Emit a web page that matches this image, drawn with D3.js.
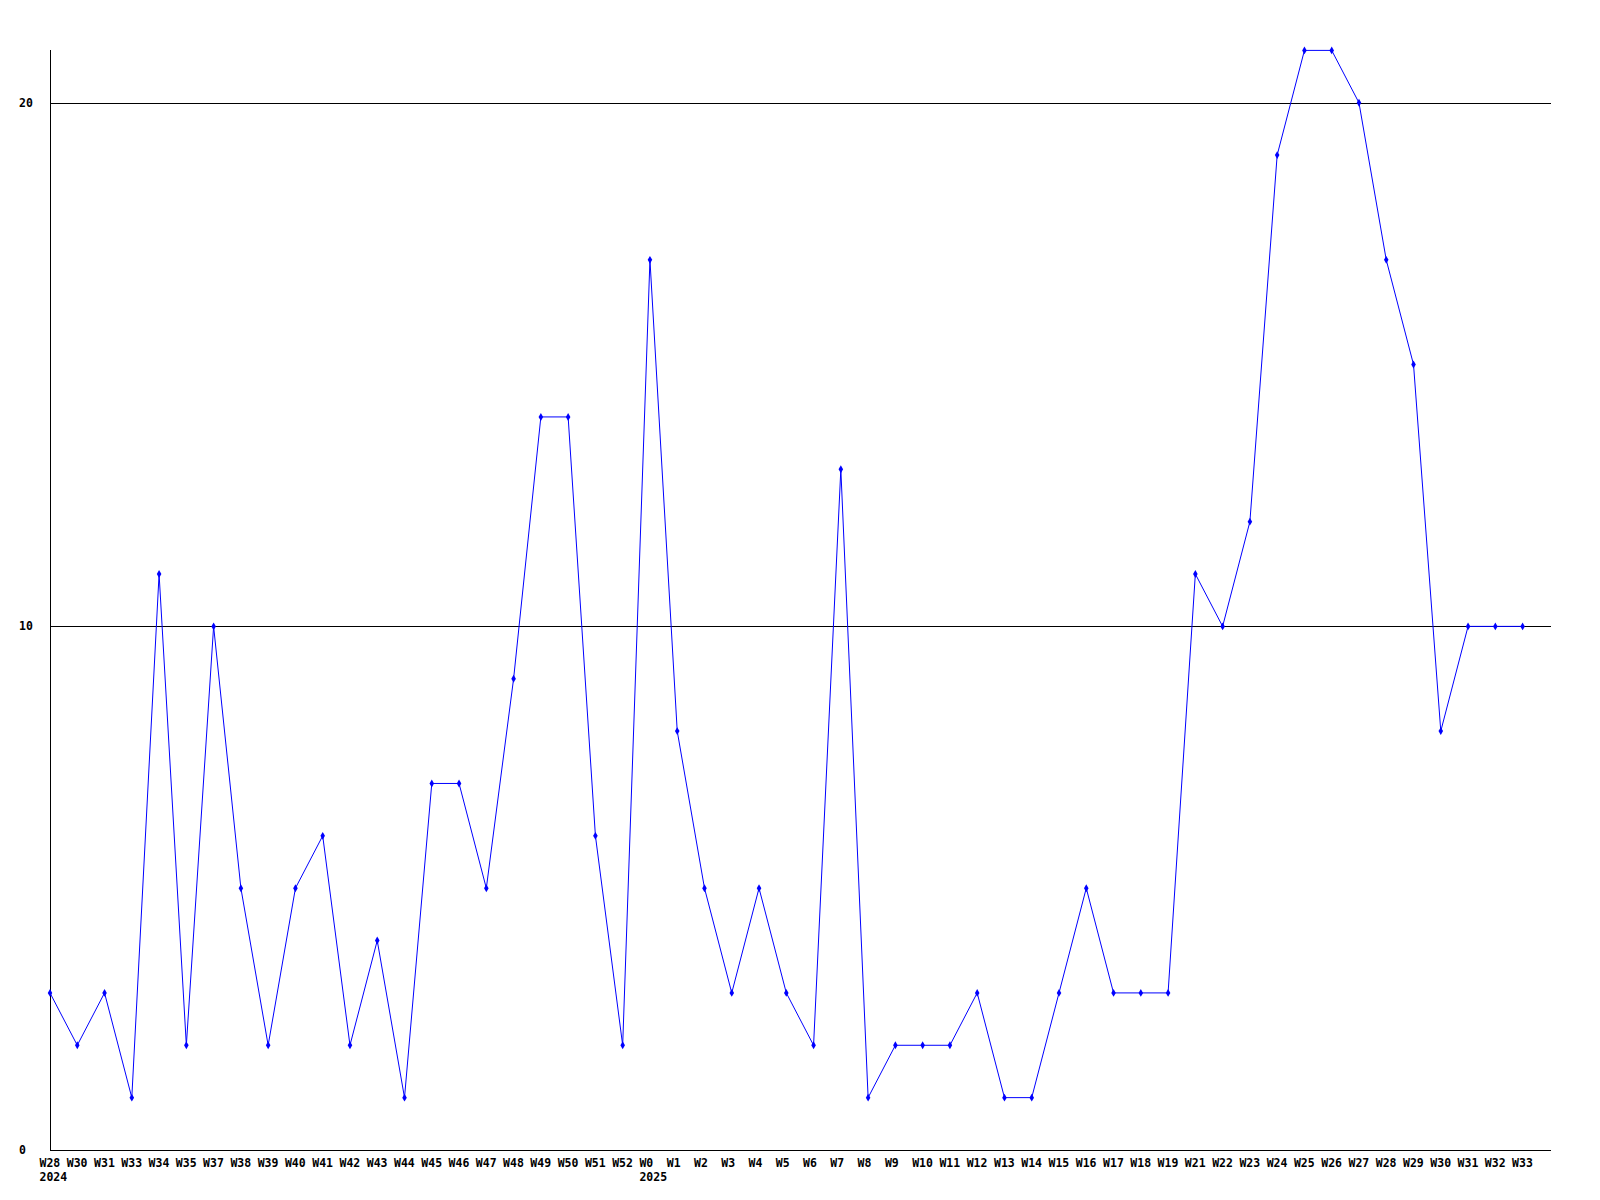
<!DOCTYPE html>
<html>
<head>
<meta charset="utf-8">
<script src="https://cdn.jsdelivr.net/npm/d3@7"></script>
<style>
html,body{margin:0;padding:0;background:#fff;}
svg text{font-family:"DejaVu Sans Mono","Liberation Mono",monospace;font-weight:bold;font-size:11.5px;fill:#000;}
</style>
</head>
<body>
<svg id="chart" width="1600" height="1200"></svg>
<script>
const weeks = ["W28","W30","W31","W33","W34","W35","W37","W38","W39","W40","W41","W42","W43","W44","W45","W46","W47","W48","W49","W50","W51","W52",
  "W0","W1","W2","W3","W4","W5","W6","W7","W8","W9","W10","W11","W12","W13","W14","W15","W16","W17","W18","W19",
  "W21","W22","W23","W24","W25","W26","W27","W28","W29","W30","W31","W32","W33"];
const values = [3,2,3,1,11,2,10,5,2,5,6,2,4,1,7,7,5,9,14,14,6,2,
  17,8,5,3,5,3,2,13,1,2,2,2,3,1,1,3,5,3,3,3,
  11,10,12,19,21,21,20,17,15,8,10,10,10];
const yearLabels = [{index:0,label:"2024"},{index:22,label:"2025"}];
const yTicks = [0,10,20];

(function(){
const svg = d3.select("#chart");
const mL = 50, mR = 1551, mT = 50, mB = 1150;
const x = d3.scaleLinear().domain([0, weeks.length-1]).range([50, 1522.6]);
const y = d3.scaleLinear().domain([0, 21]).range([mB, mT + 0.4]);

svg.selectAll("line.grid").data(yTicks.filter(d=>d>0)).enter().append("line")
  .attr("x1", mL).attr("x2", mR)
  .attr("y1", d=>Math.round(y(d))+0.5).attr("y2", d=>Math.round(y(d))+0.5)
  .attr("stroke","#000").attr("stroke-width",1);
svg.append("line").attr("x1",mL+0.5).attr("x2",mL+0.5).attr("y1",mT).attr("y2",mB).attr("stroke","#000");
svg.append("line").attr("x1",mL).attr("x2",mR).attr("y1",mB+0.5).attr("y2",mB+0.5).attr("stroke","#000");

svg.selectAll("text.ylab").data(yTicks).enter().append("text")
  .attr("x",19).attr("y",d=>y(d)).attr("dy","0.35em").text(d=>d);

svg.selectAll("text.xlab").data(weeks).enter().append("text")
  .attr("x",(d,i)=>x(i)-10.5).attr("y",1166.5).text(d=>d);
svg.selectAll("text.year").data(yearLabels).enter().append("text")
  .attr("x",d=>x(d.index)-10.5).attr("y",1180.5).text(d=>d.label);

const line = d3.line().x((d,i)=>x(i)).y(d=>y(d));
svg.append("path").datum(values).attr("d",line).attr("fill","none").attr("stroke","#0000ff").attr("stroke-width",1);
svg.selectAll("path.pt").data(values).enter().append("path")
  .attr("transform",(d,i)=>`translate(${x(i)},${y(d)})`)
  .attr("d", d3.symbol().type(d3.symbolDiamond).size(18))
  .attr("fill","#0000ff");
})();
</script>
</body>
</html>
